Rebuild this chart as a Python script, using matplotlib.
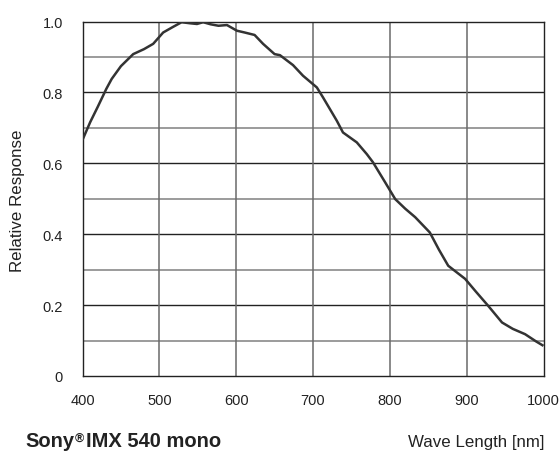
import numpy as np
import matplotlib.pyplot as plt

plt.rcParams['font.family'] = ['Liberation Sans', 'DejaVu Sans']

# spectral response curve
wavelength = [400, 410, 420, 431, 438, 450, 466, 480, 492, 505, 518, 529, 540, 549,
              557, 567, 577, 588, 601, 611, 624, 635, 650, 657, 674, 687, 705, 713,
              722, 731, 739, 757, 770, 778, 794, 807, 820, 833, 852, 864, 876, 898,
              912, 928, 946, 960, 976, 990, 1000]
response = [0.666, 0.716, 0.76, 0.81, 0.838, 0.874, 0.908, 0.922, 0.937, 0.969, 0.985,
            0.998, 0.995, 0.993, 0.998, 0.992, 0.988, 0.99, 0.974, 0.969, 0.962, 0.937,
            0.908, 0.905, 0.877, 0.847, 0.814, 0.786, 0.753, 0.72, 0.687, 0.659, 0.626,
            0.603, 0.546, 0.499, 0.472, 0.448, 0.405, 0.356, 0.311, 0.274, 0.238, 0.198,
            0.151, 0.133, 0.118, 0.098, 0.085]

x_ticks = [400, 500, 600, 700, 800, 900, 1000]
y_ticks = [0, 0.2, 0.4, 0.6, 0.8, 1.0]
y_labels = ['0', '0.2', '0.4', '0.6', '0.8', '1.0']

fig = plt.figure(figsize=(5.6, 4.52), dpi=100)
ax = fig.add_axes([82.5 / 560, 75 / 452, 461 / 560, 354.5 / 452])

ax.set_xlim(400, 1000)
ax.set_ylim(0, 1.0)

# grid: dark lines at major y ticks, grey ones in between
for y in np.arange(0.1, 1.0, 0.1):
    major = round(y * 10) % 2 == 0
    ax.axhline(y, color='#222222' if major else '#8a8a8a', lw=1.0 if major else 1.2, zorder=1)
for x in x_ticks[1:-1]:
    ax.axvline(x, color='#6a6a6a', lw=1.1, zorder=1)

ax.plot(wavelength, response, color='#333333', lw=1.8, zorder=3, solid_capstyle='butt')

for s in ax.spines.values():
    s.set_color('#222222')
    s.set_linewidth(1.0)

ax.set_xticks(x_ticks)
ax.set_yticks(y_ticks)
ax.set_yticklabels(y_labels)
ax.tick_params(length=0, labelsize=10.5, colors='#222222')
ax.tick_params(axis='y', pad=14)
ax.tick_params(axis='x', pad=12)
ax.set_ylabel('Relative Response', fontsize=12.2, color='#222222')
ax.yaxis.set_label_coords((25 - 82.5) / 461, 0.496)

fig.canvas.draw()
r = fig.canvas.get_renderer()
t1 = fig.text(25 / 560, 5 / 452, 'Sony', fontsize=14.5, fontweight='bold', color='#222222')
bb = t1.get_window_extent(r)
t2 = fig.text((bb.x1 + 0.5) / 560, 10 / 452, '®', fontsize=9, fontweight='bold', color='#222222')
bb2 = t2.get_window_extent(r)
fig.text((bb2.x1 + 2.5) / 560, 5 / 452, 'IMX 540 mono', fontsize=14.5, fontweight='bold', color='#222222')

fig.text(545 / 560, 5 / 452, 'Wave Length [nm]', fontsize=12.2, ha='right', color='#222222')

fig.savefig('out.png', dpi=100)
